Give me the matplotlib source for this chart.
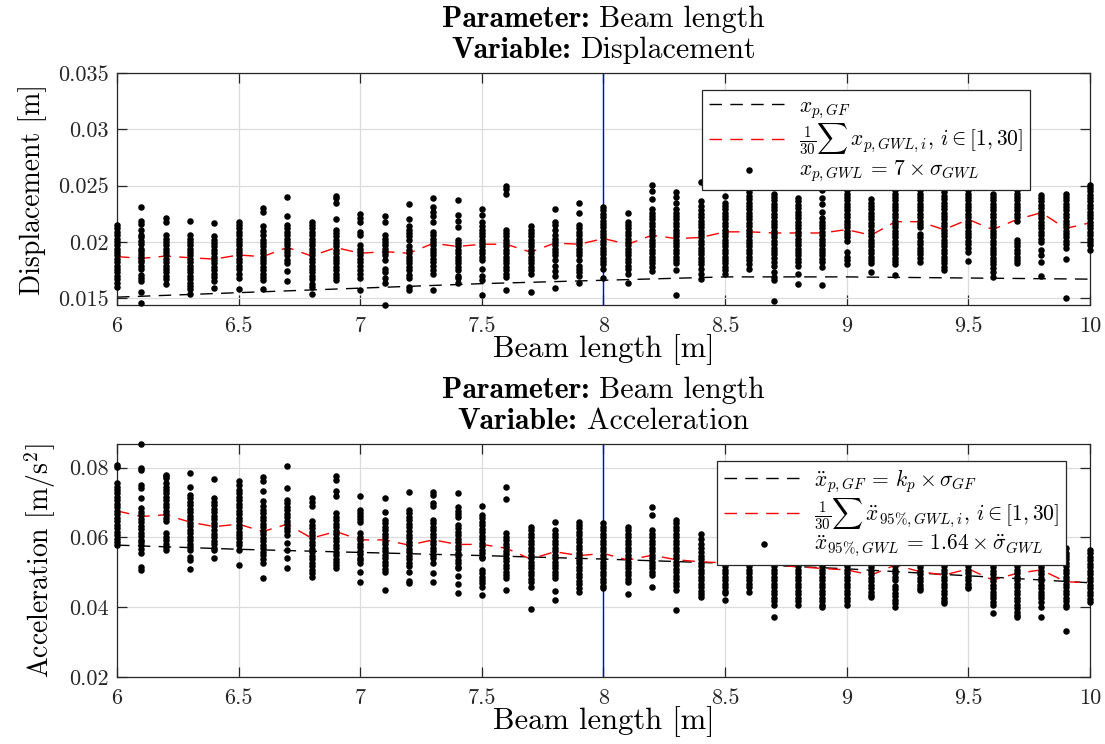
import numpy as np
import matplotlib
matplotlib.use('Agg')
import matplotlib.pyplot as plt
from matplotlib.offsetbox import TextArea, HPacker, VPacker, AnchoredOffsetbox

plt.rcParams['font.family'] = 'serif'
plt.rcParams['font.serif'] = ['cmr10']
plt.rcParams['mathtext.fontset'] = 'cm'
plt.rcParams['axes.formatter.use_mathtext'] = True

################################################################################
# data (displacement in mm, acceleration in mm/s^2)
beam = [6.0, 6.1, 6.2, 6.3, 6.4, 6.5, 6.6, 6.7, 6.8, 6.9, 7.0, 7.1, 7.2, 7.3,
        7.4, 7.5, 7.6, 7.7, 7.8, 7.9, 8.0, 8.1, 8.2, 8.3, 8.4, 8.5, 8.6, 8.7,
        8.8, 8.9, 9.0, 9.1, 9.2, 9.3, 9.4, 9.5, 9.6, 9.7, 9.8, 9.9, 10.0]

disp_gwl = [
    [21.5, 21.2, 20.9, 20.6, 20.3, 20.0, 19.7, 19.4, 19.1, 18.8, 18.5, 18.2, 17.9, 17.6, 17.3, 17.0, 16.7, 16.4, 16.0],
    [23.1, 21.9, 21.6, 21.1, 20.6, 20.4, 20.1, 19.8, 19.4, 19.2, 18.9, 18.7, 18.4, 18.2, 17.9, 17.6, 17.1, 16.8, 16.5, 15.6, 14.6],
    [22.1, 21.8, 20.6, 20.3, 20.0, 19.7, 19.4, 19.1, 18.8, 18.5, 18.2, 17.9, 17.6, 17.3, 17.0, 16.7, 16.3],
    [21.9, 20.6, 20.3, 20.0, 19.7, 19.4, 19.1, 18.8, 18.5, 18.2, 17.9, 17.6, 17.3, 17.0, 16.7, 16.4, 16.1, 15.8, 15.4],
    [21.7, 20.5, 20.2, 19.9, 19.6, 19.3, 19.0, 18.7, 18.4, 18.1, 17.8, 17.5, 17.2, 16.9, 16.5, 15.9],
    [21.8, 21.5, 21.2, 20.9, 20.6, 20.3, 20.0, 19.7, 19.4, 19.1, 18.8, 18.5, 18.2, 17.9, 17.6, 17.2, 16.8, 15.8],
    [23.0, 22.7, 21.4, 21.0, 20.6, 20.2, 19.9, 19.6, 19.3, 19.0, 18.7, 18.4, 18.1, 17.8, 17.5, 17.2, 16.9, 16.6, 15.8],
    [24.0, 22.3, 21.5, 21.2, 20.9, 20.6, 20.3, 20.0, 19.7, 19.4, 19.1, 18.8, 18.4, 18.1, 17.4, 16.5],
    [21.8, 21.5, 21.2, 20.9, 20.6, 20.3, 20.0, 19.7, 19.4, 19.1, 18.8, 18.5, 18.2, 17.9, 17.6, 17.3, 17.0, 16.7, 16.3, 16.0, 15.4],
    [24.1, 23.9, 23.5, 22.0, 21.1, 20.8, 20.5, 20.2, 19.9, 19.6, 19.3, 19.0, 18.7, 18.4, 18.1, 17.8, 17.5, 17.2, 16.9, 16.6],
    [22.5, 22.1, 21.8, 20.9, 20.6, 19.7, 19.4, 19.1, 18.8, 18.5, 18.2, 17.9, 17.5, 17.2, 16.8, 15.7],
    [22.3, 21.8, 20.6, 20.3, 20.0, 19.7, 19.4, 19.1, 18.8, 18.4, 17.6, 17.3, 16.8, 16.4, 14.4],
    [23.4, 22.0, 21.4, 21.1, 20.8, 20.5, 20.2, 19.6, 19.3, 19.0, 18.7, 18.4, 18.1, 17.8, 17.5, 17.1, 16.8, 16.0, 15.7],
    [23.9, 23.1, 22.7, 22.3, 21.8, 20.9, 20.6, 20.3, 20.0, 19.7, 19.4, 19.1, 18.8, 18.5, 18.2, 17.9, 17.5, 17.2, 15.7],
    [23.7, 22.4, 21.9, 21.3, 20.2, 19.9, 19.6, 19.3, 19.0, 18.7, 18.4, 18.1, 17.8, 17.5, 17.0, 16.8, 16.4],
    [22.9, 22.4, 21.8, 21.4, 21.1, 20.8, 20.5, 20.2, 19.9, 19.6, 19.3, 19.0, 18.7, 18.4, 17.6, 17.0, 16.6, 15.3],
    [25.0, 24.7, 24.3, 21.1, 20.8, 20.5, 20.2, 19.9, 19.6, 19.3, 19.0, 18.7, 18.4, 18.1, 17.8, 17.5, 17.2, 16.9, 15.7],
    [21.4, 21.1, 20.8, 20.5, 20.2, 19.9, 19.6, 19.3, 19.0, 18.7, 18.4, 18.1, 17.8, 17.5, 17.2, 15.6],
    [22.9, 21.8, 21.5, 21.1, 20.6, 20.3, 20.0, 19.7, 19.4, 19.1, 18.8, 18.4, 17.9, 17.4, 17.0, 15.9],
    [23.5, 22.6, 21.5, 21.2, 20.9, 20.6, 20.3, 20.0, 19.7, 19.4, 19.1, 18.8, 18.4, 17.9, 17.6, 17.3, 17.0, 16.4],
    [23.1, 22.8, 22.5, 22.2, 21.9, 21.6, 21.3, 21.0, 20.7, 20.4, 20.1, 19.8, 19.5, 19.2, 18.9, 18.6, 18.3, 18.0, 17.6, 16.8],
    [22.6, 21.8, 21.5, 21.2, 20.9, 20.6, 20.3, 20.0, 19.7, 19.4, 19.1, 18.8, 18.5, 18.2, 17.9, 17.6, 17.2, 16.4],
    [25.1, 24.5, 23.8, 22.9, 22.6, 22.3, 22.0, 21.7, 21.4, 21.1, 20.8, 20.5, 20.2, 19.9, 19.6, 19.3, 19.0, 18.7, 18.4, 18.1, 17.8, 17.4],
    [24.4, 24.0, 23.5, 22.9, 22.6, 22.3, 22.0, 21.7, 21.4, 21.1, 20.8, 20.5, 20.2, 19.9, 19.6, 19.3, 19.0, 18.7, 18.4, 18.1, 17.5, 15.3],
    [25.3, 23.6, 23.2, 22.8, 22.5, 22.2, 21.9, 21.6, 21.3, 21.0, 20.7, 20.4, 20.1, 19.8, 19.5, 19.2, 18.9, 18.6, 18.3, 18.0, 17.6, 17.2, 16.7],
    [24.1, 23.5, 23.2, 22.9, 22.6, 22.3, 22.0, 21.7, 21.4, 21.1, 20.8, 20.5, 20.2, 19.9, 19.6, 19.3, 19.0, 18.7, 18.4, 18.1, 17.8, 17.5, 17.2],
    [24.7, 24.4, 24.1, 23.8, 23.5, 23.2, 22.9, 22.6, 22.3, 22.0, 21.7, 21.4, 21.1, 20.8, 20.5, 20.2, 19.9, 19.6, 19.3, 19.0, 18.7, 18.4, 18.0, 17.6],
    [24.3, 24.0, 23.7, 23.4, 23.1, 22.8, 22.5, 22.2, 21.9, 21.6, 21.3, 21.0, 20.7, 20.4, 20.1, 19.8, 19.5, 19.2, 18.9, 18.6, 18.2, 17.9, 17.3, 16.9, 16.6, 14.8],
    [23.9, 23.6, 23.3, 23.0, 22.7, 22.4, 22.1, 21.8, 21.5, 21.2, 20.9, 20.6, 20.3, 20.0, 19.7, 19.4, 19.1, 18.8, 18.5, 18.2, 17.9, 17.2, 16.3],
    [25.0, 24.6, 23.9, 23.4, 22.7, 22.1, 21.8, 21.5, 21.2, 20.9, 20.6, 20.3, 20.0, 19.7, 19.4, 19.1, 18.8, 18.5, 18.2, 17.8, 16.2],
    [24.9, 24.6, 24.3, 24.0, 23.7, 23.4, 23.1, 22.8, 22.5, 22.2, 21.9, 21.6, 21.3, 21.0, 20.7, 20.4, 20.1, 19.1, 18.7, 18.4, 18.0],
    [23.8, 23.5, 23.2, 22.9, 22.6, 22.3, 22.0, 21.7, 21.4, 21.1, 20.8, 20.5, 20.2, 19.9, 19.6, 19.3, 19.0, 18.7, 18.4, 18.1, 17.3],
    [24.9, 24.6, 24.3, 24.0, 23.7, 23.4, 23.1, 22.8, 22.5, 22.2, 21.9, 21.6, 21.3, 21.0, 20.7, 20.4, 20.1, 19.8, 19.5, 19.2, 18.9, 18.6, 18.3, 18.0, 17.1],
    [24.9, 24.6, 24.3, 24.0, 23.7, 23.4, 23.1, 22.8, 22.5, 22.2, 21.9, 21.6, 21.3, 20.7, 20.4, 20.1, 19.8, 19.5, 19.2, 18.9, 18.6, 18.2],
    [24.7, 24.4, 24.1, 23.8, 23.5, 23.2, 22.9, 22.6, 22.3, 22.0, 21.7, 21.4, 21.1, 20.8, 20.5, 20.2, 19.9, 19.6, 19.3, 19.0, 18.7, 18.4, 18.1, 17.8, 17.5],
    [24.9, 24.6, 24.3, 24.0, 23.7, 23.4, 23.1, 22.8, 22.5, 22.2, 21.9, 21.6, 21.3, 21.0, 20.7, 20.4, 20.1, 19.8, 19.5, 19.1, 18.3],
    [24.3, 24.0, 23.7, 23.4, 23.1, 22.8, 22.5, 22.2, 21.9, 21.6, 21.3, 21.0, 20.7, 20.4, 20.1, 19.8, 19.5, 19.2, 18.9, 18.6, 18.3, 18.0, 17.7, 17.3, 16.9],
    [24.9, 24.6, 24.3, 24.0, 23.7, 23.4, 23.1, 22.8, 22.5, 22.2, 21.9, 20.2, 19.9, 19.6, 19.3, 19.0, 18.7, 18.4, 18.1],
    [24.2, 23.9, 23.6, 23.3, 23.0, 22.7, 22.4, 22.1, 21.8, 21.5, 21.2, 20.9, 20.6, 20.3, 20.0, 19.3, 18.8, 18.2, 17.0],
    [24.3, 24.0, 23.7, 23.4, 23.1, 22.8, 22.5, 22.2, 21.9, 21.6, 21.3, 21.0, 20.7, 20.4, 20.1, 19.8, 19.5, 18.5, 15.0],
    [25.1, 24.8, 24.5, 24.2, 23.9, 23.6, 23.3, 23.0, 22.7, 22.4, 22.1, 21.8, 21.5, 21.2, 20.9, 20.6, 20.3, 20.0, 19.7, 19.3],
]

disp_mean = [18.7, 18.54, 18.75, 18.6, 18.48, 18.84, 18.7, 19.52, 18.75, 19.5,
             19.0, 19.14, 19.0, 19.88, 19.6, 19.8, 19.8, 19.1, 19.9, 19.8,
             20.3, 19.8, 20.6, 20.3, 20.4, 20.9, 20.9, 20.8, 20.8, 20.8,
             21.1, 20.6, 21.8, 21.8, 21.1, 22.0, 21.1, 22.0, 22.6, 21.2, 21.7]

gf_beam = [6.0, 6.5, 7.0, 7.5, 8.0, 8.5, 9.0, 9.5, 10.0]
disp_gf = [15.1, 15.5, 15.9, 16.3, 16.6, 16.9, 16.9, 16.8, 16.7]

acc_gwl = [
    [80.8, 80.3, 75.6, 74.6, 73.6, 72.6, 71.6, 70.6, 69.6, 68.6, 67.6, 66.6, 65.6, 64.6, 63.6, 62.6, 61.6, 60.6, 59.6, 58.6, 57.8],
    [86.8, 79.9, 79.4, 75.1, 74.1, 71.2, 68.4, 67.4, 66.4, 65.4, 64.4, 63.4, 62.4, 61.4, 60.4, 59.4, 58.6, 57.8, 56.8, 55.5, 51.6, 50.7],
    [78.0, 77.5, 77.0, 75.6, 74.6, 73.6, 72.6, 71.6, 70.6, 69.6, 68.6, 67.6, 66.6, 65.6, 64.6, 61.2, 60.2, 59.2, 58.2, 57.2, 56.4],
    [78.4, 74.6, 72.2, 71.2, 70.2, 69.2, 68.2, 67.2, 66.2, 65.2, 64.2, 63.2, 62.2, 61.2, 60.2, 59.2, 58.2, 57.2, 56.4, 54.5, 53.6, 50.9],
    [76.8, 71.2, 70.2, 69.2, 68.2, 67.2, 66.2, 65.2, 64.2, 63.2, 62.2, 61.0, 60.0, 59.0, 58.0, 57.0, 56.4, 54.2],
    [76.2, 75.1, 73.7, 72.7, 71.7, 70.7, 69.7, 68.7, 67.7, 66.7, 65.7, 64.7, 63.7, 62.7, 61.7, 60.7, 59.7, 58.7, 57.8, 56.4, 52.1],
    [77.2, 76.1, 73.4, 70.4, 68.9, 67.9, 66.9, 65.9, 64.9, 63.9, 62.9, 61.9, 60.9, 59.9, 58.9, 57.9, 56.9, 55.9, 54.9, 53.9, 52.6, 48.3],
    [80.6, 74.3, 70.8, 69.8, 68.8, 67.8, 66.8, 65.8, 64.8, 63.8, 62.8, 61.8, 60.7, 58.3, 56.4, 54.0, 51.1],
    [71.4, 70.3, 68.9, 64.7, 63.7, 62.7, 61.7, 60.7, 59.7, 58.7, 57.7, 56.7, 55.7, 54.7, 53.7, 52.7, 51.7, 50.7, 49.7, 48.7],
    [77.5, 76.6, 73.2, 71.8, 66.9, 65.9, 64.9, 63.9, 62.9, 61.9, 60.9, 59.9, 58.9, 57.9, 56.9, 55.9, 54.9, 53.9, 52.9, 52.0, 51.1],
    [71.9, 67.9, 67.0, 66.1, 65.2, 64.5, 61.2, 60.2, 59.2, 58.2, 57.2, 56.2, 55.2, 54.2, 53.4, 52.6, 50.0, 47.3],
    [71.4, 67.4, 65.0, 64.0, 63.0, 62.0, 61.0, 60.0, 59.0, 58.0, 57.0, 56.0, 55.0, 54.0, 53.0, 52.0, 51.0, 50.2, 44.9],
    [72.9, 67.9, 66.9, 65.9, 64.9, 63.9, 62.9, 61.9, 60.7, 59.7, 58.7, 57.7, 56.7, 55.7, 54.7, 53.7, 52.7, 51.7, 50.2, 47.6, 46.8],
    [73.0, 72.2, 69.9, 68.9, 65.0, 64.0, 63.0, 62.0, 61.0, 60.0, 59.0, 58.0, 57.0, 56.0, 55.0, 54.0, 52.6, 49.9, 47.3],
    [72.7, 68.6, 67.6, 66.6, 66.0, 63.6, 62.6, 61.6, 60.6, 59.6, 58.6, 57.6, 56.6, 55.6, 54.6, 53.6, 52.6, 51.6, 51.1, 49.0, 46.6, 44.0],
    [69.0, 66.5, 65.5, 64.5, 63.5, 62.5, 61.5, 60.5, 59.5, 58.5, 57.5, 56.5, 55.5, 54.5, 54.0, 50.7, 49.7, 48.7, 47.7, 46.8, 45.9, 43.5],
    [74.6, 71.0, 61.2, 60.2, 59.2, 58.2, 57.2, 56.2, 55.2, 54.2, 53.2, 52.2, 51.2, 50.2, 49.2, 48.3, 44.9],
    [63.1, 62.1, 61.1, 60.1, 59.1, 58.1, 57.1, 56.1, 55.1, 54.1, 53.1, 52.1, 51.1, 50.1, 49.1, 48.1, 47.1, 45.9, 39.5],
    [64.5, 62.1, 61.1, 60.1, 59.1, 58.1, 57.1, 56.1, 55.1, 54.1, 53.1, 52.1, 51.1, 50.1, 49.1, 48.3, 44.7, 42.2],
    [64.5, 63.6, 62.6, 61.6, 60.6, 59.6, 58.6, 57.6, 56.6, 55.6, 54.6, 53.6, 52.6, 51.6, 50.6, 49.6, 48.6, 47.6, 46.6, 45.6, 44.4],
    [64.1, 63.1, 62.1, 61.1, 60.1, 59.1, 58.1, 57.1, 56.1, 55.1, 54.1, 53.1, 52.1, 51.1, 50.1, 49.1, 48.1, 47.1, 46.1, 45.4],
    [63.1, 62.1, 61.1, 60.1, 59.1, 58.1, 57.1, 56.1, 55.1, 54.1, 53.1, 52.1, 51.1, 50.1, 49.1, 48.1, 47.3, 43.7],
    [68.6, 66.5, 62.1, 61.1, 60.1, 59.1, 58.1, 57.1, 56.1, 55.1, 54.1, 53.1, 52.1, 51.1, 50.1, 49.1, 45.9],
    [65.0, 64.0, 63.0, 62.0, 61.0, 60.0, 59.0, 58.0, 57.0, 56.0, 55.0, 54.0, 53.0, 52.0, 51.0, 50.0, 49.0, 48.0, 47.0, 46.0, 44.9, 39.2],
    [61.0, 59.5, 58.0, 56.9, 55.8, 54.7, 53.7, 52.7, 51.7, 50.7, 49.7, 48.7, 47.7, 46.7, 45.7, 44.7, 43.7, 43.0],
    [62.0, 60.5, 59.0, 57.5, 56.0, 54.7, 53.7, 52.7, 51.7, 50.7, 49.7, 48.7, 47.7, 46.7, 45.7, 44.7, 44.0, 42.0],
    [60.5, 59.0, 57.5, 56.0, 54.7, 53.7, 52.7, 51.7, 50.7, 49.7, 48.7, 47.7, 46.7, 45.7, 44.5],
    [62.0, 60.0, 58.0, 56.0, 54.7, 53.7, 52.7, 51.7, 50.7, 49.7, 48.7, 47.7, 46.7, 45.7, 44.7, 43.7, 42.7, 41.7, 40.6, 37.3],
    [61.0, 59.0, 57.0, 55.5, 54.7, 53.7, 52.7, 51.7, 50.7, 49.7, 48.7, 47.7, 46.7, 45.7, 44.7, 43.7, 42.7, 41.7, 40.7],
    [60.0, 58.0, 56.0, 54.7, 53.7, 52.7, 51.7, 50.7, 49.7, 48.7, 47.7, 46.7, 45.7, 44.7, 43.7, 42.7, 41.7, 40.6, 40.0],
    [60.0, 58.0, 56.0, 54.7, 53.7, 52.7, 51.7, 50.7, 49.7, 48.7, 47.7, 46.7, 45.7, 44.7, 43.7, 42.7, 41.7, 40.6],
    [58.5, 56.5, 55.5, 53.5, 52.5, 51.5, 50.5, 49.5, 48.5, 47.5, 46.5, 45.5, 44.5, 43.5, 43.0],
    [60.0, 57.5, 55.5, 54.7, 53.7, 52.7, 51.7, 50.7, 49.7, 48.7, 47.7, 46.2, 45.2, 44.2, 43.2, 42.2, 41.2, 40.2],
    [59.0, 57.0, 55.0, 53.5, 52.5, 51.5, 50.5, 49.5, 48.5, 47.5, 46.5, 45.5, 44.9],
    [60.0, 58.0, 56.0, 54.7, 53.7, 52.7, 51.7, 50.7, 49.7, 48.7, 47.7, 46.7, 45.7, 44.7, 43.7, 42.7, 41.7, 41.1],
    [59.0, 57.0, 55.5, 54.7, 53.7, 52.7, 51.7, 50.7, 49.7, 48.7, 47.7, 46.7, 45.7, 45.4],
    [59.0, 57.0, 55.0, 54.5, 53.5, 52.5, 51.5, 50.5, 49.5, 48.5, 47.5, 46.5, 45.5, 44.5, 43.5, 42.5, 41.5, 40.6, 38.2],
    [58.0, 56.0, 54.7, 53.7, 52.7, 51.7, 50.7, 49.7, 48.7, 47.7, 46.7, 45.7, 44.7, 43.7, 42.7, 41.7, 40.7, 39.7, 38.7, 37.8, 37.3],
    [59.0, 57.0, 55.0, 54.5, 53.5, 52.5, 51.5, 50.5, 49.5, 48.5, 47.5, 46.5, 45.5, 44.5, 43.5, 42.5, 41.5, 40.0, 37.3],
    [57.0, 55.5, 54.7, 53.7, 52.7, 51.7, 50.7, 49.7, 48.7, 47.7, 46.7, 45.7, 44.7, 43.7, 42.7, 41.7, 40.7, 40.0, 33.1],
    [56.4, 55.4, 54.4, 53.4, 52.4, 51.4, 50.4, 49.4, 48.4, 47.4, 46.4, 45.4, 44.4, 43.4, 42.4, 41.6],
]

acc_mean = [67.6, 66.0, 66.5, 64.4, 63.1, 63.8, 61.7, 63.8, 59.8, 61.7,
            59.3, 59.3, 57.8, 59.3, 58.0, 58.0, 56.9, 53.8, 55.9, 54.8,
            55.4, 53.5, 54.9, 53.6, 53.0, 52.7, 52.5, 52.0, 51.6, 51.1,
            50.7, 49.2, 52.1, 50.2, 49.2, 51.0, 47.8, 49.7, 50.7, 47.3, 47.0]

acc_gf = [57.8, 56.6, 55.7, 54.8, 53.8, 52.6, 51.0, 49.0, 47.0]

x_ticks = [6, 6.5, 7, 7.5, 8, 8.5, 9, 9.5, 10]
x_ticklabels = ['6', '6.5', '7', '7.5', '8', '8.5', '9', '9.5', '10']
disp_ticks = [0.015, 0.02, 0.025, 0.03, 0.035]
disp_ticklabels = ['0.015', '0.02', '0.025', '0.03', '0.035']
acc_ticks = [0.02, 0.04, 0.06, 0.08]
acc_ticklabels = ['0.02', '0.04', '0.06', '0.08']
nominal_beam = 8.0


################################################################################
# helpers
def flatten(cols, scale):
    xs, ys = [], []
    for xv, col in zip(beam, cols):
        xs += [xv] * len(col)
        ys += [v * scale for v in col]
    return np.array(xs), np.array(ys)


def style_axes(ax):
    ax.grid(True, color='#dcdcdc', linewidth=0.9)
    ax.set_axisbelow(True)
    ax.tick_params(direction='in', length=7, width=0.9, top=True, right=True,
                   labelsize=16, colors='#262626')
    ax.tick_params(axis='x', pad=8)
    ax.tick_params(axis='y', pad=6)
    for sp in ax.spines.values():
        sp.set_linewidth(0.9)
        sp.set_color('#262626')
    ax.set_xlim(6, 10)
    ax.set_xticks(x_ticks)
    ax.set_xticklabels(x_ticklabels)


def two_line_title(ax, variable):
    # bold key + regular value on each line, centred above the axes
    rows = []
    for key, value in [('Parameter:', 'Beam length'), ('Variable:', variable)]:
        k = TextArea(key, textprops=dict(family='cmb10', size=21.5))
        v = TextArea(value, textprops=dict(family='cmr10', size=21.5))
        rows.append(HPacker(children=[k, v], align='baseline', pad=0, sep=7))
    box = VPacker(children=rows, align='center', pad=0, sep=2.5)
    anchored = AnchoredOffsetbox(loc='lower center', child=box, pad=0, borderpad=0,
                                 frameon=False, bbox_to_anchor=(0.5, 1.04),
                                 bbox_transform=ax.transAxes)
    ax.add_artist(anchored)


def add_legend(ax, handles, anchor):
    leg = ax.legend(handles=handles, loc='upper right', bbox_to_anchor=anchor,
                    borderaxespad=0, fontsize=15.5, frameon=True, fancybox=False,
                    edgecolor='#262626', framealpha=1, handlelength=3.7,
                    handletextpad=0.5, labelspacing=0.05, borderpad=0.3,
                    scatterpoints=1)
    leg.get_frame().set_linewidth(0.9)
    leg.set_zorder(5)


fig = plt.figure(figsize=(11.05, 7.44), dpi=100)
ax1 = fig.add_axes([0.1059, 0.590, 0.8805, 0.3118])
ax2 = fig.add_axes([0.1059, 0.0901, 0.8805, 0.3132])

dash = (9, 6)

################################################################################
# displacement
xs, ys = flatten(disp_gwl, 1e-3)
style_axes(ax1)
ax1.axvline(nominal_beam, color='b', linewidth=1.0)
l1, = ax1.plot(gf_beam, np.array(disp_gf) * 1e-3, color='k', linewidth=1.0,
               dashes=dash, label=r'$x_{p,GF}$')
l2, = ax1.plot(beam, np.array(disp_mean) * 1e-3, color='r', linewidth=1.0,
               dashes=dash, label=r'$\frac{1}{30}\sum\, x_{p,GWL,i},\, i \in [1,30]$')
s1 = ax1.scatter(xs, ys, s=22, color='k', linewidths=0, zorder=3, clip_on=False,
                 label=r'$x_{p,GWL} \,=\, 7 \times \sigma_{GWL}$')
ax1.set_ylim(0.0144, 0.035)
ax1.set_yticks(disp_ticks)
ax1.set_yticklabels(disp_ticklabels)
ax1.set_xlabel('Beam length [m]', fontsize=22, labelpad=-1)
ax1.set_ylabel('Displacement [m]', fontsize=20, labelpad=8)
two_line_title(ax1, 'Displacement')
add_legend(ax1, [l1, l2, s1], (0.938, 0.927))

################################################################################
# acceleration
xs, ys = flatten(acc_gwl, 1e-3)
style_axes(ax2)
ax2.axvline(nominal_beam, color='b', linewidth=1.0)
l1, = ax2.plot(gf_beam, np.array(acc_gf) * 1e-3, color='k', linewidth=1.0,
               dashes=dash, label=r'$\ddot{x}_{p,GF} \,=\, k_p \times \sigma_{GF}$')
l2, = ax2.plot(beam, np.array(acc_mean) * 1e-3, color='r', linewidth=1.0,
               dashes=dash, label=r'$\frac{1}{30}\sum\, \ddot{x}_{95\%,GWL,i},\, i \in [1,30]$')
s1 = ax2.scatter(xs, ys, s=22, color='k', linewidths=0, zorder=3, clip_on=False,
                 label=r'$\ddot{x}_{95\%,GWL} \,=\, 1.64 \times \ddot{\sigma}_{GWL}$')
ax2.set_ylim(0.02, 0.0868)
ax2.set_yticks(acc_ticks)
ax2.set_yticklabels(acc_ticklabels)
ax2.set_xlabel('Beam length [m]', fontsize=22, labelpad=-1)
ax2.set_ylabel(r'Acceleration [m/s$^2$]', fontsize=20, labelpad=8)
two_line_title(ax2, 'Acceleration')
add_legend(ax2, [l1, l2, s1], (0.975, 0.927))

fig.savefig('out.png', dpi=100)
